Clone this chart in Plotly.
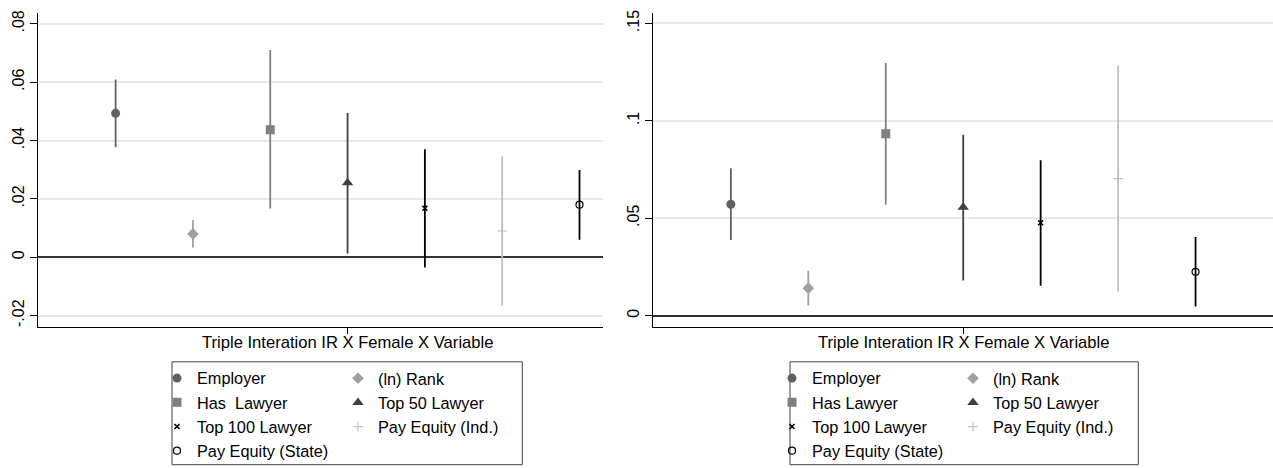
import plotly.graph_objects as go

# ---------------- data ----------------
series = ["Employer", "(ln) Rank", "Has\u00a0 Lawyer", "Top 50 Lawyer",
          "Top 100 Lawyer", "Pay Equity (Ind.)", "Pay Equity (State)"]
series_right = ["Employer", "(ln) Rank", "Has Lawyer", "Top 50 Lawyer",
                "Top 100 Lawyer", "Pay Equity (Ind.)", "Pay Equity (State)"]
positions = [1, 2, 3, 4, 5, 6, 7]

coef_left = [0.0493, 0.0080, 0.0437, 0.0255, 0.0168, 0.0090, 0.0180]
low_left = [0.0377, 0.0033, 0.0167, 0.0013, -0.0035, -0.0166, 0.0060]
high_left = [0.0609, 0.0128, 0.0710, 0.0494, 0.0370, 0.0346, 0.0299]

coef_right = [0.0572, 0.0141, 0.0934, 0.0556, 0.0477, 0.0703, 0.0225]
low_right = [0.0388, 0.0052, 0.0570, 0.0180, 0.0153, 0.0124, 0.0047]
high_right = [0.0756, 0.0230, 0.1297, 0.0929, 0.0797, 0.1283, 0.0403]

left_ticks = [-0.02, 0, 0.02, 0.04, 0.06, 0.08]
left_ticklabels = ["-.02", "0", ".02", ".04", ".06", ".08"]
right_ticks = [0, 0.05, 0.1, 0.15]
right_ticklabels = ["0", ".05", ".1", ".15"]
xtitle = "Triple Interation IR X Female X Variable"

# ---------------- styles ----------------
W, H = 1273, 468
FONT = "Liberation Sans, Arial, sans-serif"
styles = [
    dict(symbol="circle", color="#606060", size=9, lw=0, ecol="#606060"),
    dict(symbol="diamond", color="#a0a0a0", size=9, lw=0, ecol="#a0a0a0"),
    dict(symbol="square", color="#808080", size=9, lw=0, ecol="#808080"),
    dict(symbol="triangle-up", color="#404040", size=10, lw=0, ecol="#404040"),
    dict(symbol="x-thin", color="#000000", size=5, lw=1.6, ecol="#000000"),
    dict(symbol="cross-thin", color="#c0c0c0", size=7, lw=1.2, ecol="#c0c0c0"),
    dict(symbol="circle-open", color="#000000", size=7, lw=1.2, ecol="#000000"),
]
col_of = [0, 1, 0, 1, 0, 1, 0]

def px_x(p):
    return p / W

def px_y(p):
    return 1 - p / H

fig = go.Figure()

def add_panel(coef, lo, hi, names, xa, ya, legs):
    for i in range(len(coef)):
        st = styles[i]
        fig.add_trace(go.Scatter(
            x=[positions[i]], y=[coef[i]], mode="markers", name=names[i],
            xaxis=xa, yaxis=ya, legend=legs[col_of[i]],
            marker=dict(symbol=st["symbol"], color=st["color"], size=st["size"],
                        line=dict(width=st["lw"], color=st["color"])),
            error_y=dict(type="data", symmetric=False,
                         array=[hi[i] - coef[i]], arrayminus=[coef[i] - lo[i]],
                         width=0, thickness=1.8, color=st["ecol"]),
            showlegend=True, hoverinfo="skip"))

add_panel(coef_left, low_left, high_left, series, "x", "y", ["legend", "legend2"])
add_panel(coef_right, low_right, high_right, series_right, "x2", "y2", ["legend3", "legend4"])

y_dom = [px_y(327), px_y(10)]
common_y = dict(showline=True, linecolor="#000000", linewidth=1, ticks="outside",
                ticklen=7, tickcolor="#000000", tickwidth=1, tickangle=-90,
                showgrid=True, gridcolor="#e8e8e8", gridwidth=1.6,
                zeroline=True, zerolinecolor="#333333", zerolinewidth=1.8,
                tickfont=dict(family=FONT, size=16, color="#000000"),
                domain=y_dom, fixedrange=True)
common_x = dict(showline=True, linecolor="#000000", linewidth=1, ticks="outside",
                ticklen=6, tickcolor="#000000", tickwidth=1, tickvals=[4], ticktext=[""],
                showgrid=False, zeroline=False, fixedrange=True)

fig.update_layout(
    width=W, height=H, margin=dict(l=0, r=0, t=0, b=0),
    paper_bgcolor="white", plot_bgcolor="white",
    font=dict(family=FONT, size=16, color="#000000"),
    xaxis=dict(common_x, domain=[px_x(38.3), px_x(602.7)], range=[0, 7.30], anchor="y"),
    yaxis=dict(common_y, range=[-0.02373, 0.08373], tickvals=left_ticks,
               ticktext=left_ticklabels, anchor="x"),
    xaxis2=dict(common_x, domain=[px_x(653.4), 1.0], range=[0, 8.0], anchor="y2"),
    yaxis2=dict(common_y, range=[-0.00559, 0.1554], tickvals=right_ticks,
                ticktext=right_ticklabels, anchor="x2"),
)

leg_common = dict(orientation="v", xanchor="left", yanchor="top", bgcolor="rgba(0,0,0,0)",
                  borderwidth=0, font=dict(family=FONT, size=16.3, color="#000000"),
                  itemsizing="trace", traceorder="normal", itemclick=False,
                  itemdoubleclick=False)
fig.update_layout(
    legend=dict(leg_common, x=px_x(157), y=px_y(362)),
    legend2=dict(leg_common, x=px_x(338), y=px_y(362)),
    legend3=dict(leg_common, x=px_x(772), y=px_y(362)),
    legend4=dict(leg_common, x=px_x(953), y=px_y(362)),
)

# legend boxes
for (x0, x1) in [(172, 522.3), (790, 1138.3)]:
    fig.add_shape(type="rect", xref="paper", yref="paper",
                  x0=px_x(x0), x1=px_x(x1), y0=px_y(466.7), y1=px_y(362.7),
                  line=dict(color="#404040", width=1), fillcolor="rgba(0,0,0,0)")

# axis titles (centred on the tick)
for xr in ["x", "x2"]:
    fig.add_annotation(text=xtitle, x=4, xref=xr, y=px_y(343.5), yref="paper",
                       xanchor="center", yanchor="middle", showarrow=False,
                       font=dict(family=FONT, size=16.6, color="#000000"))

fig.write_html("out.html")
